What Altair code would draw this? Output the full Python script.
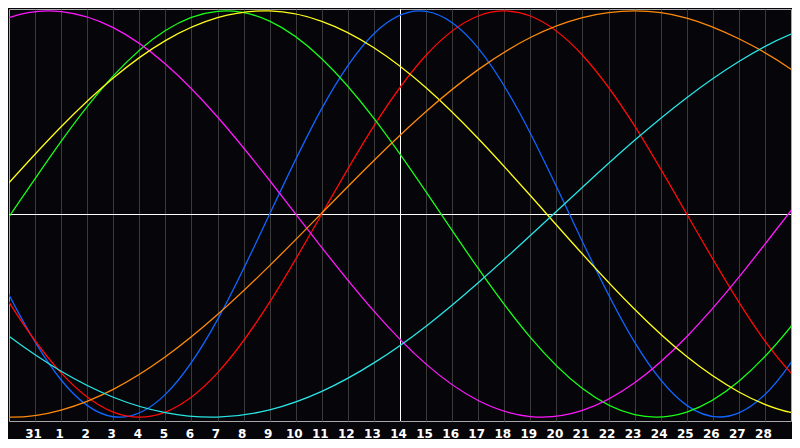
import json

import altair as alt
import pandas as pd

# day index: 1 = the "31" gridline, 15 = today (14th), 29 = the "28" gridline
DAYS = [-2, 0, 2, 4, 6, 8, 10, 12, 14, 16, 18, 20, 22, 24, 26, 28, 30, 32]
DAY_LABELS = ["31", "1", "2", "3", "4", "5", "6", "7", "8", "9", "10", "11", "12", "13", "14",
              "15", "16", "17", "18", "19", "20", "21", "22", "23", "24", "25", "26", "27", "28"]
TODAY = 15

# cycle values (percent) at every other day
C23 = [13.6, -39.8, -81.7, -99.8, -88.8, -52.0, 0.0, 52.0, 88.8, 99.8, 81.7, 39.8,
       -13.6, -63.1, -94.2, -97.9, -73.1, -27.0]
C28 = [0.0, -43.4, -78.2, -97.5, -97.5, -78.2, -43.4, 0.0, 43.4, 78.2, 97.5, 97.5,
       78.2, 43.4, 0.0, -43.4, -78.2, -97.5]
C33 = [-38.5, -1.4, 35.8, 68.0, 90.4, 99.8, 95.0, 76.5, 47.1, 10.9, -26.8, -60.7,
       -85.9, -98.8, -97.5, -82.3, -55.3, -20.3]
C38 = [83.1, 96.7, 99.7, 91.8, 73.9, 47.8, 16.5, -16.5, -47.8, -73.9, -91.8, -99.7,
       -96.7, -83.1, -60.4, -31.1, 1.7, 34.2]
C43 = [-13.4, 15.4, 43.0, 67.0, 85.4, 96.7, 100.0, 94.9, 81.9, 62.2, 37.2, 9.1,
       -19.7, -46.9, -70.2, -87.6, -97.7, -99.7]
C48 = [-96.7, -100.0, -96.5, -86.3, -70.3, -49.5, -25.4, 0.5, 26.4, 50.5, 71.1, 86.9,
       96.7, 100.0, 96.5, 86.3, 71.3, 50.5]
C53 = [-39.6, -60.2, -77.4, -90.2, -97.8, -100.0, -96.4, -87.3, -73.3, -55.2, -33.8, -10.6,
       13.2, 36.3, 57.3, 75.1, 88.6, 97.0]

CYCLES = ["23", "28", "33", "38", "43", "48", "53"]
COLORS = ["#0f66ff", "#ff0a0a", "#18ff18", "#ff18ff", "#ffff18", "#ff8a0a", "#28e6e6"]

series = dict(zip(CYCLES, [C23, C28, C33, C38, C43, C48, C53]))
df = pd.DataFrame(
    [{"day": d, "value": v, "cycle": name} for name, vals in series.items() for d, v in zip(DAYS, vals)]
)

xscale = alt.Scale(domain=[0, 30], nice=False, zero=False)
yscale = alt.Scale(domain=[-101.9, 100.95], nice=False, zero=False)
xaxis = alt.Axis(
    values=list(range(1, 30)), grid=True, gridColor="#3a3a3a", gridWidth=1,
    domain=False, ticks=False, title=None,
    labelColor="white", labelFont="DejaVu Sans", labelFontWeight="bold", labelFontSize=12,
    labelPadding=7, labelOffset=-2, labelOverlap=False, labelBound=False, labelFlush=False,
    labelExpr=f"{json.dumps(DAY_LABELS)}[datum.value - 1]",
)

lines = alt.Chart(df).mark_line(strokeWidth=1.3, interpolate="natural", clip=True).encode(
    x=alt.X("day:Q", scale=xscale, axis=xaxis),
    y=alt.Y("value:Q", scale=yscale, axis=None),
    color=alt.Color("cycle:N", scale=alt.Scale(domain=CYCLES, range=COLORS), legend=None),
    detail="cycle:N",
)

# half-pixel offsets keep the white cross crisp
today = alt.Chart(pd.DataFrame({"day": [TODAY]})).mark_rule(
    color="white", strokeWidth=1, xOffset=0.5
).encode(x=alt.X("day:Q", scale=xscale, axis=xaxis))
zero = alt.Chart(pd.DataFrame({"value": [0]})).mark_rule(
    color="white", strokeWidth=1, yOffset=0.47
).encode(y=alt.Y("value:Q", scale=yscale, axis=None))

chart = alt.layer(today, zero, lines).properties(
    width=782, height=412, padding=0, background="#060509"
).configure_view(stroke="#a8a8a8", strokeWidth=1)

chart.save("out.html", embed_options={"renderer": "svg", "actions": False})
